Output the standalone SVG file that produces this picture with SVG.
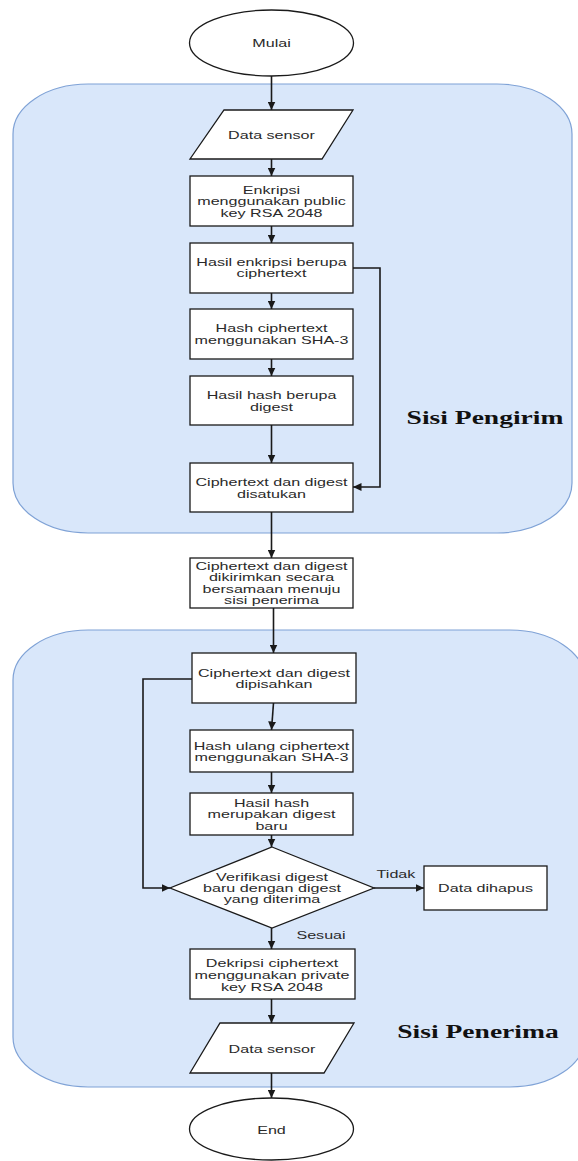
<svg xmlns="http://www.w3.org/2000/svg" width="578" height="1161" viewBox="0 0 578 1161">
<style>
.reg{fill:#d9e7fa;stroke:#7fa2d6;stroke-width:1.2}
.shp{fill:#ffffff;stroke:#1a1a1a;stroke-width:1.3}
.t{font-family:"Liberation Sans",Arial,sans-serif;font-size:11.5px;fill:#2a2a2a;text-anchor:middle}
.lbl{font-family:"Liberation Serif","Times New Roman",serif;font-size:19px;font-weight:bold;fill:#111;text-anchor:middle}
.c{fill:none;stroke:#1a1a1a;stroke-width:1.6}
</style>
<defs>
<marker id="ah" markerWidth="9" markerHeight="8" refX="8.5" refY="4" orient="auto" markerUnits="userSpaceOnUse">
<path d="M0,0 L8.5,4 L0,8 z" fill="#1a1a1a"/>
</marker>
</defs>
<rect id="region-pengirim" class="reg" x="13" y="84" width="559" height="449" rx="75" ry="50"/>
<rect id="region-penerima" class="reg" x="13" y="630" width="572" height="457" rx="75" ry="50"/>
<g id="label-pengirim"><text class="lbl" transform="translate(485,424) scale(1.45,1)" x="0" y="0">Sisi Pengirim</text></g>
<g id="label-penerima"><text class="lbl" transform="translate(478,1038) scale(1.45,1)" x="0" y="0">Sisi Penerima</text></g>
<g id="connectors">
<path class="c" marker-end="url(#ah)" d="M271.5,76 V110"/>
<path class="c" marker-end="url(#ah)" d="M271.5,159 V176"/>
<path class="c" marker-end="url(#ah)" d="M271.5,226 V243"/>
<path class="c" marker-end="url(#ah)" d="M271.5,293 V309"/>
<path class="c" marker-end="url(#ah)" d="M271.5,359 V376"/>
<path class="c" marker-end="url(#ah)" d="M271.5,425 V463"/>
<path class="c" marker-end="url(#ah)" d="M353,268 H380 V487 H353"/>
<path class="c" marker-end="url(#ah)" d="M271.5,512 V558"/>
<path class="c" marker-end="url(#ah)" d="M273.5,608 V653"/>
<path class="c" marker-end="url(#ah)" d="M192,679 H143 V888 H170"/>
<path class="c" marker-end="url(#ah)" d="M273.5,703 L271.5,730"/>
<path class="c" marker-end="url(#ah)" d="M271.5,772 V793"/>
<path class="c" marker-end="url(#ah)" d="M271.5,835 V847"/>
<path class="c" marker-end="url(#ah)" d="M374,888 H424"/>
<path class="c" marker-end="url(#ah)" d="M271.5,928 V949"/>
<path class="c" marker-end="url(#ah)" d="M271.5,999 V1023"/>
<path class="c" marker-end="url(#ah)" d="M271.5,1073 V1098"/>
<text class="t" transform="translate(396,878) scale(1.4,1)" x="0" y="0">Tidak</text>
<text class="t" transform="translate(321,939) scale(1.4,1)" x="0" y="0">Sesuai</text>
</g>
<g id="n-mulai">
<ellipse class="shp" cx="271.5" cy="43" rx="82" ry="33"/>
<text class="t" transform="translate(271.5,47) scale(1.4,1)" x="0" y="0">Mulai</text>
</g>
<g id="n-data-sensor-1">
<polygon class="shp" points="224,110 353,110 322,159 190,159"/>
<text class="t" transform="translate(271.5,139) scale(1.4,1)" x="0" y="0">Data sensor</text>
</g>
<g id="n-enkripsi">
<rect class="shp" x="190" y="176" width="163" height="50"/>
<g transform="translate(271.5,0) scale(1.4,1)">
<text class="t" x="0" y="194">Enkripsi</text>
<text class="t" x="0" y="205.5">menggunakan public</text>
<text class="t" x="0" y="217">key RSA 2048</text>
</g>
</g>
<g id="n-hasil-enkripsi">
<rect class="shp" x="190" y="243" width="163" height="50"/>
<g transform="translate(271.5,0) scale(1.4,1)">
<text class="t" x="0" y="266">Hasil enkripsi berupa</text>
<text class="t" x="0" y="277.5">ciphertext</text>
</g>
</g>
<g id="n-hash">
<rect class="shp" x="190" y="309" width="163" height="50"/>
<g transform="translate(271.5,0) scale(1.4,1)">
<text class="t" x="0" y="332">Hash ciphertext</text>
<text class="t" x="0" y="344">menggunakan SHA-3</text>
</g>
</g>
<g id="n-hasil-hash">
<rect class="shp" x="190" y="376" width="163" height="49"/>
<g transform="translate(271.5,0) scale(1.4,1)">
<text class="t" x="0" y="399">Hasil hash berupa</text>
<text class="t" x="0" y="411">digest</text>
</g>
</g>
<g id="n-disatukan">
<rect class="shp" x="190" y="463" width="163" height="49"/>
<g transform="translate(271.5,0) scale(1.4,1)">
<text class="t" x="0" y="486">Ciphertext dan digest</text>
<text class="t" x="0" y="498">disatukan</text>
</g>
</g>
<g id="n-dikirimkan">
<rect class="shp" x="190" y="558" width="163" height="50"/>
<g transform="translate(271.5,0) scale(1.4,1)">
<text class="t" x="0" y="570">Ciphertext dan digest</text>
<text class="t" x="0" y="581.5">dikirimkan secara</text>
<text class="t" x="0" y="593">bersamaan menuju</text>
<text class="t" x="0" y="604.5">sisi penerima</text>
</g>
</g>
<g id="n-dipisahkan">
<rect class="shp" x="192" y="653" width="164" height="50"/>
<g transform="translate(274,0) scale(1.4,1)">
<text class="t" x="0" y="677">Ciphertext dan digest</text>
<text class="t" x="0" y="688.5">dipisahkan</text>
</g>
</g>
<g id="n-hash-ulang">
<rect class="shp" x="190" y="730" width="163" height="42"/>
<g transform="translate(271.5,0) scale(1.4,1)">
<text class="t" x="0" y="750">Hash ulang ciphertext</text>
<text class="t" x="0" y="761.5">menggunakan SHA-3</text>
</g>
</g>
<g id="n-digest-baru">
<rect class="shp" x="190" y="793" width="163" height="42"/>
<g transform="translate(271.5,0) scale(1.4,1)">
<text class="t" x="0" y="807">Hasil hash</text>
<text class="t" x="0" y="818.5">merupakan digest</text>
<text class="t" x="0" y="830">baru</text>
</g>
</g>
<g id="n-verifikasi">
<polygon class="shp" points="272,847 374,888 272,928 170,888"/>
<g transform="translate(272,0) scale(1.4,1)">
<text class="t" x="0" y="881">Verifikasi digest</text>
<text class="t" x="0" y="892">baru dengan digest</text>
<text class="t" x="0" y="903">yang diterima</text>
</g>
</g>
<g id="n-dihapus">
<rect class="shp" x="424" y="866" width="123" height="44"/>
<text class="t" transform="translate(485.5,892) scale(1.4,1)" x="0" y="0">Data dihapus</text>
</g>
<g id="n-dekripsi">
<rect class="shp" x="190" y="949" width="165" height="50"/>
<g transform="translate(272,0) scale(1.4,1)">
<text class="t" x="0" y="967">Dekripsi ciphertext</text>
<text class="t" x="0" y="979">menggunakan private</text>
<text class="t" x="0" y="991">key RSA 2048</text>
</g>
</g>
<g id="n-data-sensor-2">
<polygon class="shp" points="220,1023 354,1023 324,1073 190,1073"/>
<text class="t" transform="translate(272,1053) scale(1.4,1)" x="0" y="0">Data sensor</text>
</g>
<g id="n-end">
<ellipse class="shp" cx="271.5" cy="1129" rx="82" ry="31"/>
<text class="t" transform="translate(271.5,1134) scale(1.4,1)" x="0" y="0">End</text>
</g>
</svg>
